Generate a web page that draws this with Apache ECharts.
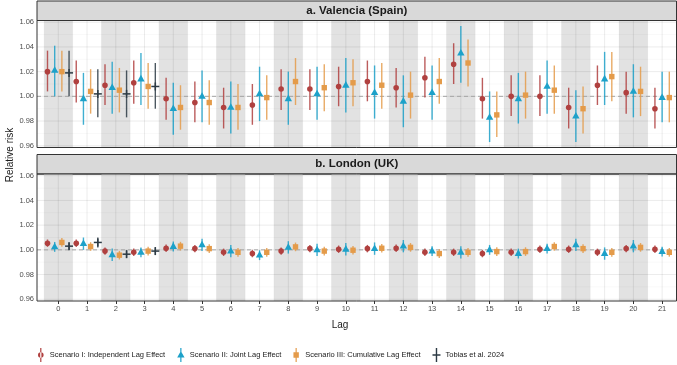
<!DOCTYPE html>
<html><head><meta charset="utf-8">
<script src="https://cdn.jsdelivr.net/npm/echarts@6/dist/echarts.min.js"></script>
<style>html,body{margin:0;padding:0;background:#fff}#c{width:677px;height:365px}</style>
</head><body><div id="c"></div>
<script>
// ---------- data ----------
const lags = [0,1,2,3,4,5,6,7,8,9,10,11,12,13,14,15,16,17,18,19,20,21];
const yTicks = [0.96,0.98,1.00,1.02,1.04,1.06];
const yMinor = [0.97,0.99,1.01,1.03,1.05];
const seriesNames = ['Scenario I: Independent Lag Effect','Scenario II: Joint Lag Effect','Scenario III: Cumulative Lag Effect','Tobias et al. 2024'];
const panelTitles = ['a. Valencia (Spain)','b. London (UK)'];

// Valencia (Spain)
const valS1 = [1.020,1.012,1.009,1.011,0.998,0.995,0.991,0.993,1.006,1.006,1.008,1.012,1.007,1.015,1.026,0.998,1.000,1.000,0.991,1.009,1.003,0.990];
const valS1Lo = [1.004,0.995,0.993,0.994,0.981,0.979,0.974,0.977,0.989,0.989,0.992,0.996,0.991,0.999,1.010,0.982,0.984,0.984,0.974,0.993,0.986,0.974];
const valS1Hi = [1.037,1.029,1.026,1.029,1.015,1.012,1.007,1.010,1.022,1.022,1.024,1.029,1.023,1.032,1.043,1.015,1.017,1.017,1.007,1.025,1.020,1.007];
const valS2 = [1.021,0.998,1.007,1.014,0.990,1.000,0.991,1.002,0.998,1.002,1.009,1.003,0.996,1.003,1.035,0.983,0.998,1.008,0.984,1.014,1.004,0.999];
const valS2Lo = [1.000,0.977,0.986,0.993,0.969,0.979,0.970,0.980,0.977,0.981,0.987,0.982,0.975,0.981,1.011,0.963,0.978,0.986,0.963,0.993,0.983,0.979];
const valS2Hi = [1.041,1.019,1.028,1.035,1.011,1.021,1.012,1.024,1.020,1.024,1.031,1.025,1.017,1.025,1.057,1.004,1.019,1.029,1.005,1.036,1.026,1.020];
const valS3 = [1.020,1.004,1.005,1.008,0.991,0.995,0.991,0.999,1.012,1.007,1.011,1.009,1.001,1.012,1.027,0.985,1.001,1.005,0.990,1.016,1.004,0.999];
const valS3Lo = [1.004,0.986,0.987,0.990,0.973,0.977,0.973,0.981,0.993,0.988,0.992,0.990,0.982,0.994,1.008,0.967,0.982,0.986,0.970,0.996,0.984,0.979];
const valS3Hi = [1.037,1.022,1.023,1.027,1.009,1.013,1.010,1.017,1.031,1.026,1.030,1.027,1.020,1.031,1.046,1.004,1.020,1.025,1.008,1.036,1.024,1.020];
const tobiasLags = [0,1,2,3];
const valTob = [1.019,1.002,1.002,1.008];
const valTobLo = [1.000,0.983,0.983,0.990];
const valTobHi = [1.037,1.022,1.021,1.027];

// London (UK)
const lonS1 = [1.0054,1.0054,0.999,0.998,1.0013,1.001,0.998,0.997,0.999,1.001,1.0005,1.001,1.0013,0.998,0.998,0.997,0.998,1.0005,1.0005,0.998,1.001,1.0005];
const lonS1Lo = [1.0024,1.0024,0.996,0.995,0.9983,0.998,0.995,0.994,0.996,0.998,0.9975,0.998,0.9983,0.995,0.995,0.994,0.995,0.9975,0.9975,0.995,0.998,0.9975];
const lonS1Hi = [1.0084,1.0084,1.002,1.001,1.0043,1.004,1.001,1.000,1.002,1.004,1.0035,1.004,1.0043,1.001,1.001,1.000,1.001,1.0035,1.0035,1.001,1.004,1.0035];
const lonS2 = [1.0024,1.005,0.996,0.998,1.0027,1.004,0.999,0.9957,1.002,1.000,1.0005,1.001,1.003,0.999,0.998,1.000,0.997,1.001,1.004,0.997,1.003,0.9986];
const lonS2Lo = [0.9984,1.000,0.991,0.994,0.9987,0.999,0.994,0.9917,0.997,0.995,0.9955,0.996,0.998,0.995,0.993,0.996,0.993,0.997,0.999,0.992,0.998,0.9946];
const lonS2Hi = [1.0064,1.010,1.001,1.002,1.0067,1.009,1.004,0.9997,1.007,1.005,1.0055,1.006,1.008,1.003,1.003,1.004,1.001,1.005,1.009,1.002,1.008,1.0026];
const lonS3 = [1.006,1.0027,0.9957,0.999,1.003,1.001,0.998,0.998,1.0024,0.999,0.9997,1.0013,1.002,0.997,0.998,0.9986,0.9986,1.0027,1.001,0.998,1.002,0.998];
const lonS3Lo = [1.0025,0.9992,0.9922,0.9955,0.9995,0.9975,0.9945,0.9945,0.9989,0.9955,0.9962,0.9978,0.9985,0.9935,0.9945,0.9951,0.9951,0.9992,0.9975,0.9945,0.9985,0.9945];
const lonS3Hi = [1.0095,1.0062,0.9992,1.0025,1.0065,1.0045,1.0015,1.0015,1.0059,1.0025,1.0032,1.0048,1.0055,1.0005,1.0015,1.0021,1.0021,1.0062,1.0045,1.0015,1.0055,1.0015];
const lonTob = [1.003,1.006,0.9965,0.999];
const lonTobLo = [1.000,1.002,0.9935,0.996];
const lonTobHi = [1.006,1.010,0.9995,1.002];

// ---------- styling ----------
const colors = ['#B0403F','#1DA1C9','#E49B4A','#2C3A44'];
const shapes = ['circle','triangle','square','plus'];
const Y_MIN = 0.9586, Y_MAX = 1.0614;
const X_MIN = -0.74, X_MAX = 21.5;
const PANEL_L = 37, PANEL_W = 639.5, PANEL_H = 127;
const panelTops = [20.5, 174];

function rows(xs, est, lo, hi) { return xs.map((x, i) => [x, est[i], lo[i], hi[i]]); }

function markerShape(shape, x, y, color) {
  if (shape === 'circle') return {type:'circle', shape:{cx:x, cy:y, r:2.8}, style:{fill:color}};
  if (shape === 'triangle') return {type:'polygon', shape:{points:[[x, y-4.2],[x-3.7, y+2.4],[x+3.7, y+2.4]]}, style:{fill:color}};
  if (shape === 'square') return {type:'rect', shape:{x:x-2.7, y:y-2.7, width:5.4, height:5.4}, style:{fill:color}};
  return {type:'group', children:[
    {type:'line', shape:{x1:x-4, y1:y, x2:x+4, y2:y}, style:{stroke:color, lineWidth:1.5}},
    {type:'line', shape:{x1:x, y1:y-4, x2:x, y2:y+4}, style:{stroke:color, lineWidth:1.5}}
  ]};
}

function pointRangeRender(slot) {
  return function (params, api) {
    const lag = api.value(0);
    const n = tobiasLags.indexOf(lag) >= 0 ? 4 : 3;
    const offs = n === 4 ? [-0.375, -0.125, 0.125, 0.375] : [-0.25, 0, 0.25];
    const bw = api.size([1, 0])[0];
    const p = api.coord([lag, api.value(1)]);
    const pl = api.coord([lag, api.value(2)]);
    const ph = api.coord([lag, api.value(3)]);
    const x = p[0] + offs[slot] * bw;
    const c = colors[slot];
    return {type:'group', children:[
      {type:'line', shape:{x1:x, y1:pl[1], x2:x, y2:ph[1]}, style:{stroke:c, lineWidth:1.4, opacity:0.85}},
      markerShape(shapes[slot], x, p[1], c)
    ]};
  };
}

function backgroundRender(params, api) {
  const cs = params.coordSys;
  const ch = [];
  const bw = api.size([1, 0])[0];
  lags.forEach(l => {
    if (l % 2 === 0) {
      const x0 = api.coord([l - 0.5, 1])[0];
      ch.push({type:'rect', shape:{x:x0, y:cs.y, width:bw, height:cs.height}, style:{fill:'#e2e2e2'}});
    }
  });
  yMinor.forEach(v => {
    const y = api.coord([0, v])[1];
    ch.push({type:'line', shape:{x1:cs.x, y1:y, x2:cs.x+cs.width, y2:y}, style:{stroke:'rgba(0,0,0,0.05)', lineWidth:0.6}});
  });
  lags.forEach(l => {
    const xr = api.coord([l + 0.5, 1])[0];
    ch.push({type:'line', shape:{x1:xr, y1:cs.y, x2:xr, y2:cs.y+cs.height}, style:{stroke:'rgba(0,0,0,0.05)', lineWidth:0.6}});
  });
  yTicks.forEach(v => {
    const y = api.coord([0, v])[1];
    ch.push({type:'line', shape:{x1:cs.x, y1:y, x2:cs.x+cs.width, y2:y}, style:{stroke:'rgba(0,0,0,0.09)', lineWidth:0.9}});
  });
  lags.forEach(l => {
    const x = api.coord([l, 1])[0];
    ch.push({type:'line', shape:{x1:x, y1:cs.y, x2:x, y2:cs.y+cs.height}, style:{stroke:'rgba(0,0,0,0.09)', lineWidth:0.9}});
  });
  const y1 = api.coord([0, 1.0])[1];
  ch.push({type:'line', shape:{x1:cs.x, y1:y1, x2:cs.x+cs.width, y2:y1}, style:{stroke:'#a6a6a6', lineWidth:1, lineDash:[4,3]}});
  ch.push({type:'rect', shape:{x:cs.x, y:cs.y, width:cs.width, height:cs.height}, style:{fill:null, stroke:'#333', lineWidth:1}});
  return {type:'group', children:ch};
}

const panels = [
  {s:[rows(lags,valS1,valS1Lo,valS1Hi), rows(lags,valS2,valS2Lo,valS2Hi), rows(lags,valS3,valS3Lo,valS3Hi), rows(tobiasLags,valTob,valTobLo,valTobHi)]},
  {s:[rows(lags,lonS1,lonS1Lo,lonS1Hi), rows(lags,lonS2,lonS2Lo,lonS2Hi), rows(lags,lonS3,lonS3Lo,lonS3Hi), rows(tobiasLags,lonTob,lonTobLo,lonTobHi)]}
];

const grids = panelTops.map(t => ({left:PANEL_L, top:t, width:PANEL_W, height:PANEL_H}));
const xAxes = panelTops.map((t, i) => ({
  type:'value', gridIndex:i, min:X_MIN, max:X_MAX,
  splitLine:{show:false}, axisLine:{show:false},
  axisTick:{show:i === 1, customValues:lags, length:3, lineStyle:{color:'#333'}},
  axisLabel:{show:i === 1, customValues:lags, fontSize:7.5, color:'#4d4d4d', margin:4, fontFamily:'Liberation Sans'}
}));
const yAxes = panelTops.map((t, i) => ({
  type:'value', gridIndex:i, min:Y_MIN, max:Y_MAX,
  splitLine:{show:false}, axisLine:{show:false},
  axisTick:{show:true, customValues:yTicks, length:3, lineStyle:{color:'#333'}},
  axisLabel:{customValues:yTicks, fontSize:7.5, color:'#4d4d4d', margin:3, fontFamily:'Liberation Sans', formatter:v => v.toFixed(2)}
}));

const series = [];
panels.forEach((p, i) => {
  series.push({type:'custom', xAxisIndex:i, yAxisIndex:i, data:[[0, 1]], renderItem:backgroundRender, silent:true, z:1, clip:false});
});
panels.forEach((p, i) => {
  p.s.forEach((d, k) => {
    series.push({type:'custom', name:seriesNames[k], xAxisIndex:i, yAxisIndex:i, data:d,
      encode:{x:0, y:[1,2,3]}, renderItem:pointRangeRender(k), itemStyle:{color:colors[k]}, z:3, clip:false});
  });
});

const icons = [
  'path://M3.4,0 L4.6,0 L4.6,14 L3.4,14 Z M1.2,7 A2.8,2.8 0 1 0 6.8,7 A2.8,2.8 0 1 0 1.2,7 Z',
  'path://M3.4,0 L4.6,0 L4.6,14 L3.4,14 Z M4,3 L7.7,9.6 L0.3,9.6 Z',
  'path://M3.4,0 L4.6,0 L4.6,14 L3.4,14 Z M1.3,4.3 L6.7,4.3 L6.7,9.7 L1.3,9.7 Z',
  'path://M3.3,0 L4.7,0 L4.7,14 L3.3,14 Z M0,6.3 L8,6.3 L8,7.7 L0,7.7 Z'
];

const strips = panelTops.map((t, i) => ([
  {type:'rect', shape:{x:PANEL_L, y:t - 19.5, width:PANEL_W, height:19.5}, style:{fill:'#d9d9d9', stroke:'#333', lineWidth:1}, z:0},
  {type:'text', x:PANEL_L + PANEL_W/2, y:t - 9.8, style:{text:panelTitles[i], font:'bold 11.5px "Liberation Sans"', fill:'#1a1a1a', textAlign:'center', textVerticalAlign:'middle'}, z:1}
])).flat();

const chart = echarts.init(document.getElementById('c'), null, {renderer:'canvas'});
chart.setOption({
  animation:false,
  backgroundColor:'#fff',
  grid:grids, xAxis:xAxes, yAxis:yAxes, series:series,
  legend:{
    data:seriesNames.map((n, k) => ({name:n, icon:icons[k]})),
    left:33, top:343, itemWidth:8, itemHeight:14, itemGap:12,
    textStyle:{fontSize:7.5, color:'#1a1a1a', fontFamily:'Liberation Sans'}
  },
  graphic:strips.concat([
    {type:'text', x:340, y:325, style:{text:'Lag', font:'10px "Liberation Sans"', fill:'#1a1a1a', textAlign:'center', textVerticalAlign:'middle'}},
    {type:'text', x:10, y:155, rotation:Math.PI/2, style:{text:'Relative risk', font:'10px "Liberation Sans"', fill:'#1a1a1a', textAlign:'center', textVerticalAlign:'middle'}}
  ])
});
</script></body></html>
